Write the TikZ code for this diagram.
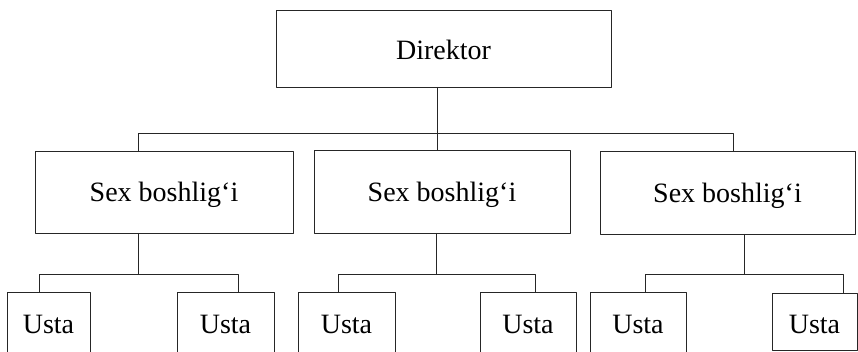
\documentclass[tikz,border=0pt]{standalone}
\usepackage{fontspec}
\setmainfont{Liberation Serif}
\begin{document}
\begin{tikzpicture}[x=1pt,y=-1pt,line join=round,line cap=round,
    font=\fontsize{28}{32}\selectfont,line width=.8pt,
    box/.style={draw=black!85,inner sep=0pt,text height=20pt,text depth=0pt},
    usta/.style={box,minimum height=68pt,text height=14pt},
    link/.style={draw=black!85}]
    \useasboundingbox (0,0) rectangle (858,352);
    % boxes
    \node[box,minimum width=335pt,minimum height=77pt,text height=23pt] (dir) at (443.5,48.5) {Direktor};
    \node[box,minimum width=258pt,minimum height=82pt] (sb1) at (164,192) {Sex boshlig‘i};
    \node[box,minimum width=256pt,minimum height=83pt] (sb2) at (442,191.5) {Sex boshlig‘i};
    \node[box,minimum width=255pt,minimum height=83pt] (sb3) at (727.5,192.5) {Sex boshlig‘i};
    \node[usta,minimum width=83pt] (u1) at (48.5,326) {Usta};
    \node[usta,minimum width=97pt] (u2) at (225.5,326) {Usta};
    \node[usta,minimum width=97pt] (u3) at (346.5,326) {Usta};
    \node[usta,minimum width=96pt] (u4) at (528,326) {Usta};
    \node[usta,minimum width=96pt] (u5) at (638,326) {Usta};
    \node[box,minimum width=85pt,minimum height=57pt,text height=23pt] (u6) at (814.5,321.5) {Usta};
    % connectors
    \coordinate (t0) at (437,133);
    \coordinate (tl) at (138,133);
    \coordinate (tr) at (733,133);
    \draw[link] (dir.south -| t0) -- (sb2.north -| t0);
    \draw[link] (sb1.north -| tl) -- (tl) -- (tr) -- (sb3.north -| tr);
    \coordinate (m1) at (138,274);
    \coordinate (m2) at (436,274);
    \coordinate (m3) at (744,274);
    \coordinate (a1) at (39,274);  \coordinate (a2) at (238,274);
    \coordinate (a3) at (338,274); \coordinate (a4) at (535,274);
    \coordinate (a5) at (645,274); \coordinate (a6) at (843,274);
    \draw[link] (sb1.south -| m1) -- (m1);
    \draw[link] (sb2.south -| m2) -- (m2);
    \draw[link] (sb3.south -| m3) -- (m3);
    \draw[link] (u1.north -| a1) -- (a1) -- (a2) -- (u2.north -| a2);
    \draw[link] (u3.north -| a3) -- (a3) -- (a4) -- (u4.north -| a4);
    \draw[link] (u5.north -| a5) -- (a5) -- (a6) -- (u6.north -| a6);
\end{tikzpicture}
\end{document}
